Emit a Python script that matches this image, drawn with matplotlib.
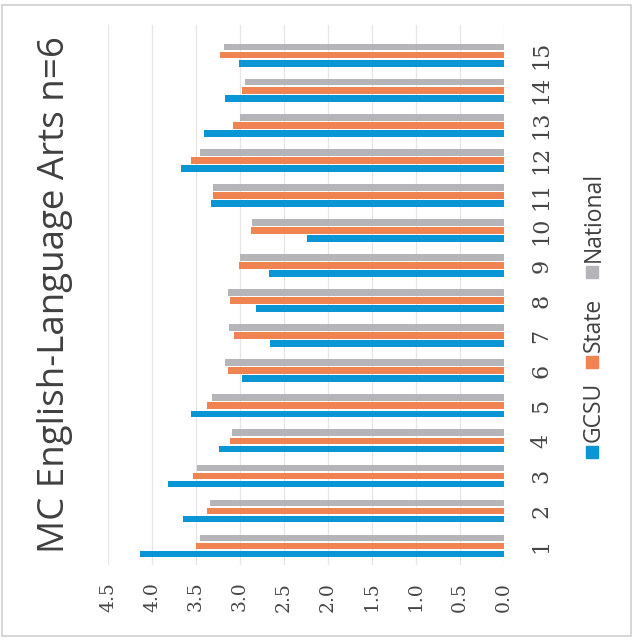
import matplotlib.pyplot as plt
from matplotlib.patches import Rectangle
import numpy as np

# mean scores per item, read left to right on the category axis
items = [str(i) for i in range(1, 16)]
gcsu = [4.14, 3.65, 3.82, 3.24, 3.56, 2.98, 2.66, 2.82, 2.67, 2.24, 3.33, 3.67, 3.41, 3.17, 3.01]
state = [3.50, 3.38, 3.53, 3.11, 3.38, 3.14, 3.07, 3.11, 3.01, 2.87, 3.31, 3.56, 3.08, 2.98, 3.23]
national = [3.45, 3.34, 3.49, 3.09, 3.32, 3.17, 3.13, 3.14, 3.00, 2.86, 3.31, 3.45, 3.00, 2.94, 3.18]
series_names = ["GCSU", "State", "National"]
value_ticks = [0.0, 0.5, 1.0, 1.5, 2.0, 2.5, 3.0, 3.5, 4.0, 4.5]

colors = ["#0a96d4", "#ef8352", "#b5b4b9"]
W, H = 633, 644

fig = plt.figure(figsize=(W / 100, H / 100), dpi=100)
fig.patch.set_facecolor("white")

# the whole chart is laid out turned a quarter turn: values run right to left
ax = fig.add_axes([108 / W, 79 / H, 396 / W, 540 / H])
y = np.arange(1, len(items) + 1)
bh = 0.19
for off, vals, c in zip([-0.23, 0.0, 0.23], [gcsu, state, national], colors):
    ax.barh(y + off, vals, height=bh, color=c, zorder=3)

ax.set_xlim(4.5, 0)
ax.set_ylim(0.46, 15.86)
ax.set_xticks(value_ticks)
ax.set_xticklabels([f"{v:.1f}" for v in value_ticks], rotation=90,
                   family="DejaVu Serif", fontsize=13.5, color="#454545")
ax.set_yticks(y)
ax.yaxis.tick_right()
ax.set_yticklabels(items, rotation=90, va="center", ha="center",
                   family="DejaVu Serif", fontsize=16, color="#454545")
ax.tick_params(axis="x", length=0, pad=12)
ax.tick_params(axis="y", length=0, pad=27)
ax.grid(axis="x", color="#e6e6e6", lw=0.9, zorder=0)
for s in ax.spines.values():
    s.set_visible(False)

fig.text(55 / W, (H - 295) / H, "MC English-Language Arts n=6", rotation=90,
         ha="center", va="center", family="Open Sans", fontsize=26.5, color="#404040")

# legend drawn by hand so it can sit sideways
leg_y = [452, 362, 272]
for name, c, ly in zip(series_names, colors, leg_y):
    fig.patches.append(Rectangle(((592 - 6) / W, (H - ly - 6) / H), 12 / W, 12 / H,
                                 transform=fig.transFigure, color=c))
    fig.text(594 / W, (H - ly + 10) / H, name, rotation=90, rotation_mode="anchor",
             ha="left", va="center", family="Open Sans", fontsize=16.5, color="#404040")

# thin frame round the chart
fig.patches.append(Rectangle((2 / W, (H - 636) / H), 629 / W, 631 / H, transform=fig.transFigure,
                             fill=False, edgecolor="#cfcfcf", lw=1.2))

fig.savefig("out.png", dpi=100)
